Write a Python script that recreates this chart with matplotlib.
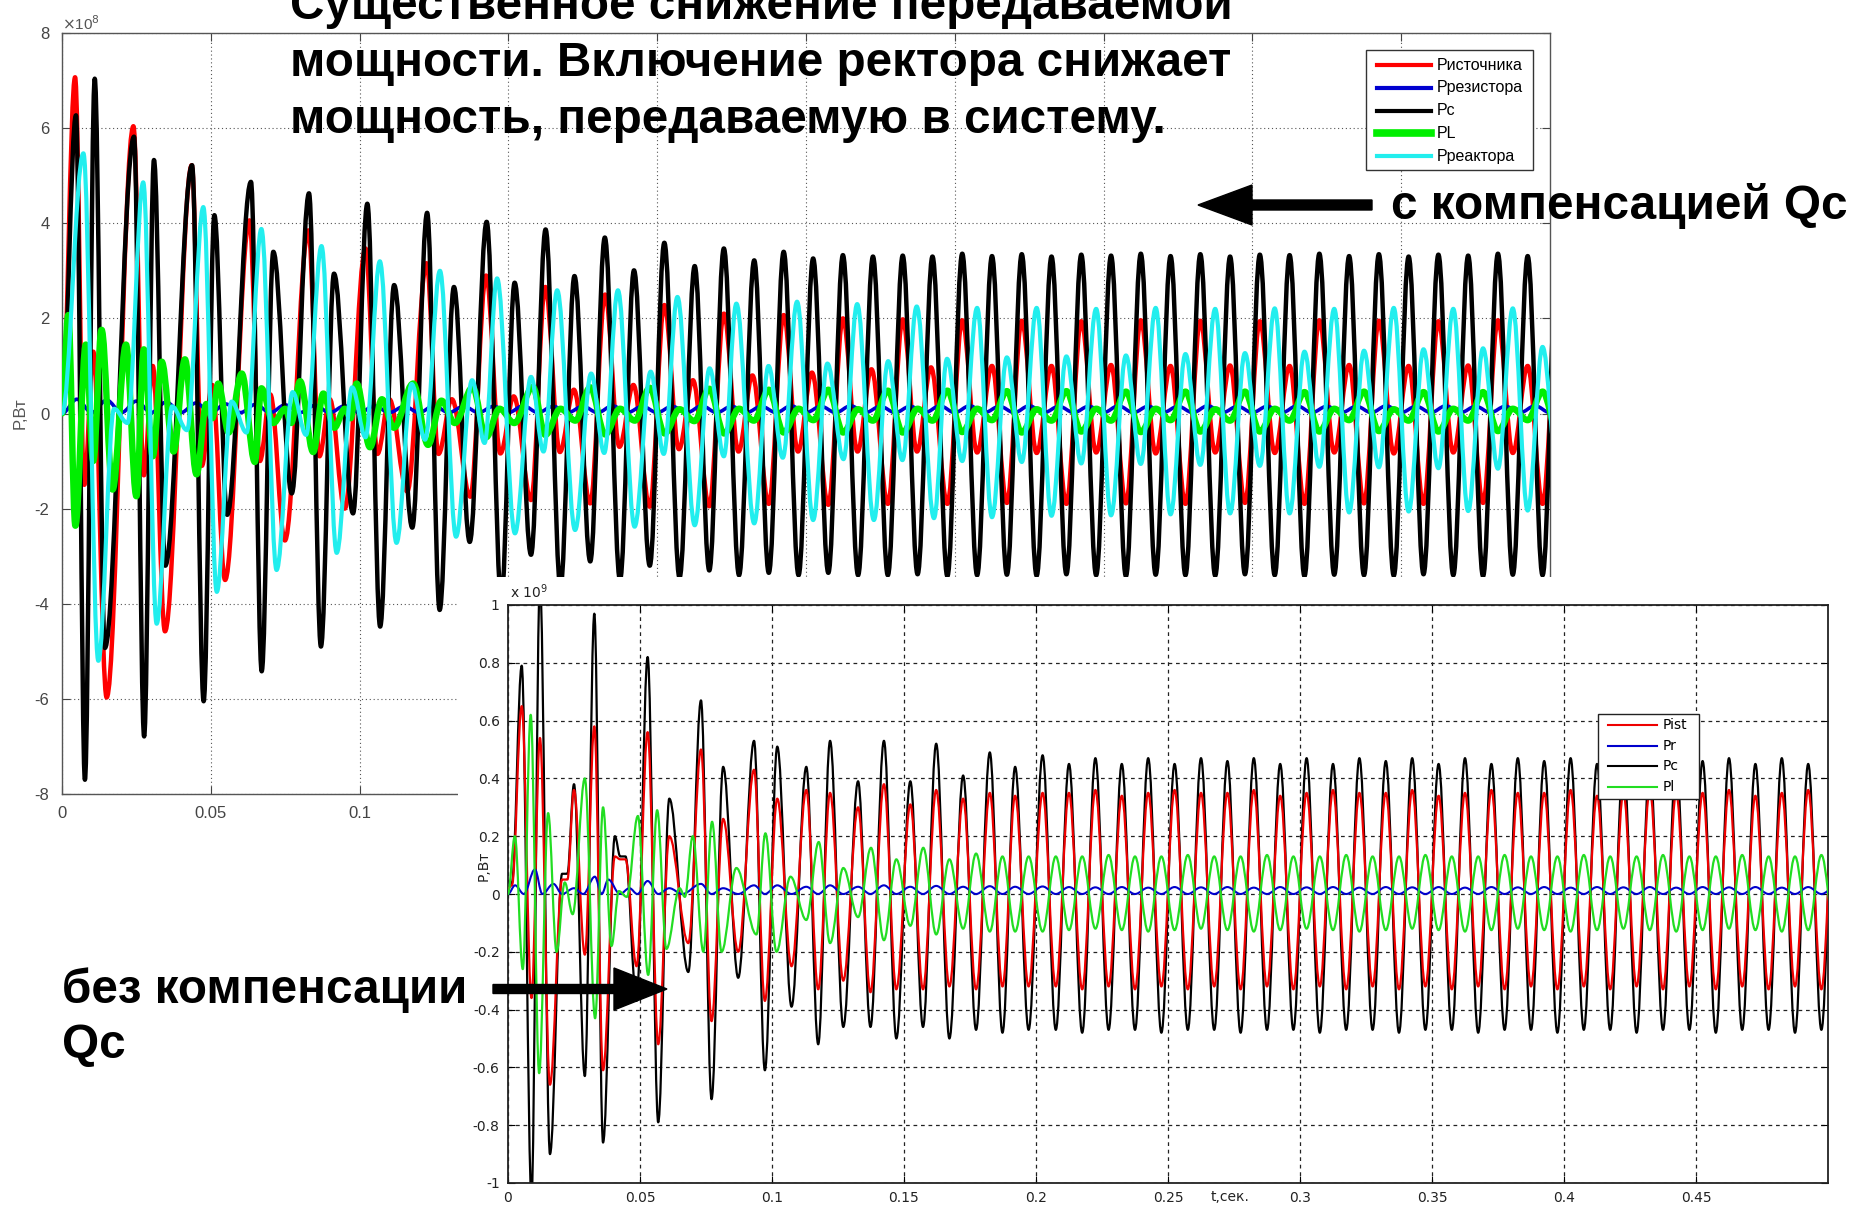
import numpy as np
import matplotlib
matplotlib.use("Agg")
import matplotlib.pyplot as plt
from matplotlib.path import Path
from matplotlib.patches import PathPatch, Rectangle, FancyArrow
from matplotlib.lines import Line2D
from matplotlib.transforms import IdentityTransform

# ---------------------------------------------------------------- data
# Upper chart (with compensation), values in 1e8 W, times of extrema in ms
top_pc_t = [0, 4.7, 7.7, 11.0, 14.4, 24.2, 27.6, 30.9, 34.7, 43.7, 47.6, 51.2, 55.5, 63.5, 67.1,
            71.0, 77.2, 83.0, 87.0, 91.4, 97.8, 102.6, 106.9, 111.6, 117.7, 122.7, 126.9, 131.7,
            137.0, 142.7, 147.6, 152.1, 157.6, 162.5, 167.5, 172.2, 177.5, 182.4, 187.5, 192.2,
            197.5, 202.4, 207.5, 212.6, 217.5, 222.4, 227.5, 232.6, 237.5, 242.5, 247.5, 252.4,
            257.5, 262.4, 267.5, 272.5]
top_pc_v = [0.0, 6.27, -7.70, 7.04, -4.93, 5.82, -6.79, 5.33, -3.20, 5.22, -6.05, 4.17, -2.13, 4.87,
            -5.42, 3.40, -1.68, 4.63, -4.90, 2.94, -2.10, 4.41, -4.48, 2.70, -2.40, 4.22, -4.13,
            2.66, -2.70, 4.03, -3.90, 2.75, -2.97, 3.87, -3.65, 2.89, -3.11, 3.70, -3.50, 3.01,
            -3.20, 3.59, -3.45, 3.10, -3.30, 3.47, -3.40, 3.22, -3.35, 3.40, -3.40, 3.26, -3.35,
            3.33, -3.40, 3.30]
top_pc_ss_start = 277.5
top_pc_ss = [-3.40, 3.32, -3.38, 3.30, -3.42, 3.36, -3.40, 3.31, -3.39, 3.35, -3.41, 3.30,
             -3.38, 3.34, -3.40, 3.32, -3.42, 3.36, -3.39, 3.31, -3.40, 3.35, -3.41, 3.30,
             -3.38, 3.34, -3.40, 3.33, -3.42, 3.36, -3.39, 3.31, -3.40, 3.35, -3.41, 3.30,
             -3.38, 3.34, -3.40, 3.32, -3.42, 3.36, -3.39, 3.31, -3.40, 3.35]

top_pist_t = [0, 4.4, 7.5, 10.5, 15.0, 24.0, 27.5, 30.5, 34.6, 43.6, 47.0, 50.5, 54.8, 63.0, 66.5,
              70.0, 74.9, 82.8, 86.5, 90.0, 95.0, 102.0, 106.0, 110.0, 116.0, 122.5, 126.5, 131.0,
              137.2, 142.5, 147.3, 151.8, 157.6, 162.4, 167.3, 172.0, 177.5, 182.5, 187.3, 192.0,
              197.5, 202.4, 207.3, 212.0, 217.5, 222.4, 227.3, 232.0, 237.5, 242.5, 247.3, 252.0,
              257.5, 262.4, 267.3, 272.0, 277.5, 282.5, 287.3, 292.0]
top_pist_v = [0.0, 7.07, -1.5, 1.3, -5.97, 6.04, -1.3, 1.0, -4.58, 5.22, -1.1, 0.6, -3.5, 4.06,
              -1.0, 0.4, -2.67, 3.85, -0.9, 0.3, -2.0, 3.47, -0.85, 0.3, -1.64, 3.16, -0.85, 0.3,
              -1.75, 2.90, -0.84, 0.36, -1.82, 2.66, -0.81, 0.50, -1.89, 2.50, -0.70, 0.60, -1.96,
              2.28, -0.75, 0.70, -1.95, 2.10, -0.80, 0.80, -1.90, 2.07, -0.80, 0.86, -1.92, 2.00,
              -0.80, 0.93, -1.90, 1.98, -0.80, 0.97]
top_pist_ss_start = 297.5
top_pist_ss = [-1.90, 1.96, -0.82, 1.00, -1.88, 1.95, -0.83, 1.00, -1.90, 1.94, -0.82, 1.02,
               -1.89, 1.96, -0.84, 1.00, -1.90, 1.95, -0.82, 1.01, -1.88, 1.94, -0.83, 1.00,
               -1.90, 1.96, -0.82, 1.02, -1.89, 1.95, -0.84, 1.00, -1.90, 1.94, -0.82, 1.01,
               -1.88, 1.96, -0.83, 1.00, -1.90, 1.95]

top_preact_t = [0, 7.2, 12.2, 17.5, 22.0, 27.3, 31.8, 37.0, 42.0, 47.5, 52.0, 57.0, 62.0, 67.0,
                72.1, 77.5, 82.0, 87.2, 92.3, 97.5, 102.0, 106.8, 112.4, 117.5, 122.0, 127.0,
                132.4, 137.8, 142.0, 146.2, 152.2, 157.6, 161.8, 166.4, 172.4, 177.8, 182.2,
                186.8, 192.4, 197.8, 202.2, 206.8, 212.6, 217.6, 222.4, 226.6, 232.6, 237.4,
                242.2, 247.0, 252.4, 257.2, 262.6, 267.2, 272.8, 277.6, 282.4, 287.2, 293.0, 297.4]
top_preact_v = [0.0, 5.47, -5.20, 0.10, -0.20, 4.86, -4.42, 0.15, -0.35, 4.34, -3.75, 0.25, -0.40,
                3.88, -3.29, 0.45, -0.45, 3.52, -2.93, 0.55, -0.50, 3.20, -2.72, 0.62, -0.55,
                3.00, -2.59, 0.70, -0.62, 2.84, -2.52, 0.77, -0.80, 2.59, -2.45, 0.84, -0.83,
                2.59, -2.38, 0.88, -0.85, 2.45, -2.35, 0.95, -0.90, 2.31, -2.31, 1.00, -0.93,
                2.35, -2.24, 1.05, -0.96, 2.30, -2.24, 1.10, -0.98, 2.25, -2.20, 1.15]
top_preact_ss_start = 302.5
top_preact_ss = [-1.00, 2.22, -2.18, 1.18, -1.02, 2.22, -2.15, 1.20, -1.05, 2.20, -2.14, 1.22,
                 -1.06, 2.22, -2.12, 1.25, -1.08, 2.20, -2.10, 1.27, -1.10, 2.21, -2.10, 1.30,
                 -1.12, 2.20, -2.08, 1.32, -1.13, 2.22, -2.06, 1.35, -1.15, 2.20, -2.05, 1.37,
                 -1.16, 2.21, -2.04, 1.40, -1.18]

top_pl_t = [0, 2.1, 4.5, 8.0, 10.5, 13.3, 17.0, 21.5, 25.0, 27.5, 30.5, 33.5, 37.5, 41.3, 45.2,
            48.5, 50.5, 52.5, 56.0, 60.4, 64.8, 67.0, 71.0, 75.0, 77.0, 80.0, 84.4, 87.8, 91.5,
            95.0, 97.0, 99.0, 103.5, 107.5, 111.5, 118.0, 123.0, 127.5, 132.0, 138.0, 142.5,
            147.0, 152.0, 158.2, 162.4]
top_pl_v = [0.0, 2.07, -2.36, 1.45, -1.00, 1.76, -1.60, 1.45, -1.74, 1.35, -0.90, 1.09, -0.80,
            1.14, -1.28, 0.20, -0.10, 0.63, -0.40, 0.84, -1.02, 0.53, -0.20, 0.10, -0.20, 0.68,
            -0.81, 0.42, -0.30, 0.10, -0.10, 0.63, -0.71, 0.30, -0.30, 0.63, -0.66, 0.27, -0.20,
            0.55, -0.50, 0.10, -0.20, 0.56, -0.45]
top_pl_ss_start = 167.5
top_pl_ss = [0.10, -0.15, 0.55, -0.44, 0.10, -0.15, 0.54, -0.42, 0.09, -0.16, 0.52, -0.42,
             0.10, -0.15, 0.50, -0.40, 0.10, -0.14, 0.50, -0.40, 0.09, -0.15, 0.48, -0.40,
             0.10, -0.15, 0.48, -0.39, 0.10, -0.14, 0.47, -0.40, 0.09, -0.15, 0.47, -0.38,
             0.10, -0.15, 0.46, -0.39, 0.10, -0.14, 0.46, -0.38, 0.09, -0.15, 0.46, -0.38,
             0.10, -0.15, 0.45, -0.38, 0.10, -0.14, 0.46, -0.37, 0.09, -0.15, 0.45, -0.38,
             0.10, -0.15, 0.45, -0.37, 0.10, -0.14, 0.46, -0.38]

top_pres_ss_start = 0.0
top_pres_ss = [0.00, 0.30, 0.02, 0.28, 0.02, 0.26, 0.02, 0.24, 0.02, 0.22, 0.02, 0.20, 0.02, 0.19,
               0.02, 0.18, 0.02, 0.17, 0.02, 0.16,
               0.02, 0.16, 0.02, 0.15, 0.02, 0.16, 0.02, 0.15, 0.02, 0.15, 0.02, 0.16, 0.02, 0.15,
               0.02, 0.15, 0.02, 0.16, 0.02, 0.15,
               0.02, 0.15, 0.02, 0.16, 0.02, 0.15, 0.02, 0.15, 0.02, 0.16, 0.02, 0.15, 0.02, 0.16,
               0.02, 0.15, 0.02, 0.15, 0.02, 0.16,
               0.02, 0.16, 0.02, 0.15, 0.02, 0.16, 0.02, 0.15, 0.02, 0.15, 0.02, 0.16, 0.02, 0.15,
               0.02, 0.15, 0.02, 0.16, 0.02, 0.15,
               0.02, 0.15, 0.02, 0.16, 0.02, 0.15, 0.02, 0.15, 0.02, 0.16, 0.02, 0.15, 0.02, 0.16,
               0.02, 0.15, 0.02, 0.15, 0.02, 0.16, 0.02]

# Lower chart (without compensation), values in 1e9 W
bot_t = [0, 1.5, 5.2, 8.9, 12.1, 15.9, 20.5, 22.5, 25.0, 29.1, 32.7, 36.0, 40.5, 42.5, 44.5,
         48.7, 52.9, 56.9, 61.1, 68.3, 73.1, 77.1, 81.5, 87.2, 93.2, 97.3, 102.0, 107.4, 113.0,
         117.5, 122.0, 127.0, 132.6, 137.3, 142.4, 147.1, 152.4, 157.2, 162.2, 167.2, 172.4,
         177.3, 182.5, 187.3, 192.1, 197.2, 202.5]
bot_pc_v = [0.02, 0.04, 0.79, -1.05, 1.08, -0.90, 0.07, 0.07, 0.38, -0.63, 0.97, -0.86, 0.20,
            0.13, 0.13, -0.37, 0.82, -0.79, 0.33, -0.27, 0.67, -0.71, 0.44, -0.29, 0.53, -0.61,
            0.51, -0.39, 0.44, -0.52, 0.53, -0.46, 0.39, -0.46, 0.53, -0.50, 0.39, -0.46, 0.52,
            -0.50, 0.41, -0.47, 0.49, -0.48, 0.44, -0.47, 0.48]
bot_pist_v = [0.02, 0.03, 0.65, -0.36, 0.54, -0.66, 0.05, 0.05, 0.36, -0.21, 0.58, -0.61, 0.13,
              0.12, 0.12, -0.25, 0.56, -0.52, 0.20, -0.17, 0.50, -0.44, 0.26, -0.20, 0.43, -0.37,
              0.33, -0.25, 0.36, -0.33, 0.35, -0.30, 0.30, -0.34, 0.38, -0.33, 0.31, -0.33, 0.36,
              -0.32, 0.33, -0.33, 0.35, -0.32, 0.34, -0.32, 0.35]
bot_ss_start = 207.5
bot_pc_ss = [-0.47, 0.45, -0.48, 0.47, -0.47, 0.45, -0.47, 0.47, -0.48, 0.45, -0.47, 0.47,
             -0.47, 0.46, -0.48, 0.47, -0.47, 0.45, -0.47, 0.47, -0.48, 0.45, -0.47, 0.47,
             -0.47, 0.46, -0.48, 0.47, -0.47, 0.45, -0.47, 0.47, -0.48, 0.45, -0.47, 0.47,
             -0.47, 0.46, -0.48, 0.47, -0.47, 0.45, -0.47, 0.47, -0.48, 0.45, -0.47, 0.47,
             -0.47, 0.46, -0.48, 0.47, -0.47, 0.45, -0.47, 0.47, -0.48, 0.45, -0.47, 0.47]
bot_pist_ss = [-0.32, 0.35, -0.33, 0.36, -0.32, 0.34, -0.33, 0.35, -0.32, 0.36, -0.33, 0.35,
               -0.32, 0.35, -0.33, 0.36, -0.32, 0.34, -0.33, 0.35, -0.32, 0.36, -0.33, 0.35,
               -0.32, 0.35, -0.33, 0.36, -0.32, 0.34, -0.33, 0.35, -0.32, 0.36, -0.33, 0.35,
               -0.32, 0.35, -0.33, 0.36, -0.32, 0.34, -0.33, 0.35, -0.32, 0.36, -0.33, 0.35,
               -0.32, 0.35, -0.33, 0.36, -0.32, 0.34, -0.33, 0.35, -0.32, 0.36, -0.33, 0.35]

bot_pl_t = [0, 2.6, 5.6, 8.6, 11.8, 15.2, 18.4, 21.5, 24.5, 29.1, 33.0, 36.0, 39.2, 42.0, 45.0,
            49.2, 53.1, 56.5, 60.0, 65.0, 67.0, 70.0, 74.0, 77.3, 80.9, 86.5, 94.1, 97.5, 101.7,
            107.0, 113.0, 117.7, 122.0, 127.0, 132.6, 137.5, 142.4, 147.1, 152.4, 157.3, 162.2,
            167.2, 172.4, 177.3, 182.5, 187.3, 192.1, 197.2, 202.5]
bot_pl_v = [0.0, 0.20, -0.26, 0.62, -0.62, 0.28, -0.20, 0.04, -0.07, 0.40, -0.43, 0.30, -0.18,
            0.01, -0.01, 0.27, -0.28, 0.29, -0.19, 0.02, -0.01, 0.20, -0.20, 0.25, -0.20, 0.09,
            -0.14, 0.21, -0.20, 0.06, -0.09, 0.18, -0.17, 0.09, -0.08, 0.16, -0.16, 0.12, -0.11,
            0.16, -0.14, 0.12, -0.12, 0.14, -0.13, 0.13, -0.13, 0.13, -0.13]
bot_pl_ss = [0.13, -0.125, 0.13, -0.12, 0.135, -0.125, 0.13, -0.13, 0.13, -0.125, 0.135, -0.12,
             0.13, -0.125, 0.13, -0.13, 0.135, -0.125, 0.13, -0.12, 0.13, -0.125, 0.135, -0.13,
             0.13, -0.125, 0.13, -0.12, 0.135, -0.125, 0.13, -0.13, 0.13, -0.125, 0.135, -0.12,
             0.13, -0.125, 0.13, -0.13, 0.135, -0.125, 0.13, -0.12, 0.13, -0.125, 0.135, -0.13,
             0.13, -0.125, 0.13, -0.12, 0.135, -0.125, 0.13, -0.13, 0.13, -0.125, 0.135, -0.12]

bot_pr_t = [0, 2.7, 6.0, 10.2, 13.0, 17.2, 20.5, 25.0, 28.5, 32.9, 35.5, 38.0, 42.4, 46.0, 49.0,
            52.9, 56.9, 61.1, 66.0, 73.1, 77.1, 81.5, 87.2, 93.2, 97.3, 102.0, 107.4, 113.0,
            117.5, 122.0, 127.0, 132.6, 137.3, 142.4, 147.1, 152.4, 157.2, 162.2, 167.2, 172.4,
            177.3, 182.5, 187.3, 192.1, 197.2, 202.5]
bot_pr_v = [0.0, 0.03, 0.0, 0.085, 0.0, 0.035, 0.0, 0.02, 0.0, 0.06, 0.0, 0.05, 0.0, 0.02, 0.0,
            0.045, 0.0, 0.02, 0.0, 0.035, 0.0, 0.02, 0.0, 0.03, 0.0, 0.03, 0.0, 0.025, 0.0, 0.03,
            0.0, 0.025, 0.0, 0.03, 0.0, 0.025, 0.0, 0.028, 0.0, 0.025, 0.0, 0.027, 0.0, 0.025,
            0.0, 0.026]
bot_pr_ss = [0.0, 0.024, 0.0, 0.023, 0.0, 0.024, 0.0, 0.022, 0.0, 0.024, 0.0, 0.023,
             0.0, 0.024, 0.0, 0.022, 0.0, 0.024, 0.0, 0.023, 0.0, 0.024, 0.0, 0.022,
             0.0, 0.024, 0.0, 0.023, 0.0, 0.024, 0.0, 0.022, 0.0, 0.024, 0.0, 0.023,
             0.0, 0.024, 0.0, 0.022, 0.0, 0.024, 0.0, 0.023, 0.0, 0.024, 0.0, 0.022,
             0.0, 0.024, 0.0, 0.023, 0.0, 0.024, 0.0, 0.022, 0.0, 0.024, 0.0, 0.023]

SS_STEP_MS = 5.0

top_yticks = [-8, -6, -4, -2, 0, 2, 4, 6, 8]
top_ytick_labels = ["-8", "-6", "-4", "-2", "0", "2", "4", "6", "8"]
bot_yticks = [-1, -0.8, -0.6, -0.4, -0.2, 0, 0.2, 0.4, 0.6, 0.8, 1]
bot_ytick_labels = ["-1", "-0.8", "-0.6", "-0.4", "-0.2", "0", "0.2", "0.4", "0.6", "0.8", "1"]
xticks = [0, 0.05, 0.1, 0.15, 0.2, 0.25, 0.3, 0.35, 0.4, 0.45]
xtick_labels = ["0", "0.05", "0.1", "0.15", "0.2", "0.25", "0.3", "0.35", "0.4", "0.45"]

top_labels = ["Ристочника", "Pрезистора", "Pc", "PL", "Pреактора"]
bot_labels = ["Pist", "Pr", "Pc", "Pl"]

title_lines = ["Существенное снижение передаваемой",
               "мощности. Включение ректора снижает",
               "мощность, передаваемую в систему."]
txt_with = "с компенсацией Qc"
txt_without = ["без компенсации", "Qc"]

# ---------------------------------------------------------------- helpers
W, H = 1856, 1205
fig = plt.figure(figsize=(W / 100, H / 100), dpi=100)
fig.patch.set_facecolor("white")


def fx(x):
    return x / W


def fy(y):
    return 1 - y / H


def series(t_tr, v_tr, ss_start=None, ss=None):
    t = list(t_tr)
    v = list(v_tr)
    if ss is not None:
        t += list(ss_start + SS_STEP_MS * np.arange(len(ss)))
        v += list(ss)
    return np.asarray(t, float) / 1000.0, np.asarray(v, float)


def draw_smooth(ax, t, v, color, lw, z, k=0.36):
    verts = [(t[0], v[0])]
    codes = [Path.MOVETO]
    for i in range(len(t) - 1):
        d = t[i + 1] - t[i]
        verts += [(t[i] + k * d, v[i]), (t[i + 1] - k * d, v[i + 1]), (t[i + 1], v[i + 1])]
        codes += [Path.CURVE4] * 3
    p = PathPatch(Path(verts, codes), fill=False, edgecolor=color, lw=lw, zorder=z,
                  joinstyle="round", capstyle="round")
    ax.add_patch(p)


RED = "#ff0000"
BLUE = "#0000d0"
BLACK = "#000000"
GREEN = "#00ee00"
CYAN = "#22eeee"

# ---------------------------------------------------------------- upper chart
ax1 = fig.add_axes([fx(62), fy(794), (1550 - 62) / W, (794 - 33) / H])
ax1.set_xlim(0, 0.5)
ax1.set_ylim(-8, 8)
ax1.set_axisbelow(True)
ax1.grid(True, linestyle=(0, (1, 2.5)), color="#555555", lw=0.8)
ax1.set_xticks(xticks)
ax1.set_xticklabels(xtick_labels)
ax1.set_yticks(top_yticks)
ax1.set_yticklabels(top_ytick_labels)
ax1.tick_params(direction="in", length=6, width=0.8, color="#444444", top=True, right=True,
                labelsize=12, labelcolor="#444444", pad=9)
for lab in ax1.get_xticklabels() + ax1.get_yticklabels():
    lab.set_family("Liberation Sans")
for s in ax1.spines.values():
    s.set_color("#555555")
    s.set_linewidth(1.0)

t, v = series(top_pist_t, top_pist_v, top_pist_ss_start, top_pist_ss)
draw_smooth(ax1, t, v, RED, 3.2, 2)
t, v = series([], [], top_pres_ss_start, top_pres_ss)
draw_smooth(ax1, t, v, BLUE, 2.6, 3)
t, v = series(top_pc_t, top_pc_v, top_pc_ss_start, top_pc_ss)
draw_smooth(ax1, t, v, BLACK, 3.2, 4)
t, v = series(top_pl_t, top_pl_v, top_pl_ss_start, top_pl_ss)
draw_smooth(ax1, t, v, GREEN, 4.6, 5)
t, v = series(top_preact_t, top_preact_v, top_preact_ss_start, top_preact_ss)
draw_smooth(ax1, t, v, CYAN, 3.0, 6)

fig.text(fx(20), fy(413), "P,Вт", rotation=90, ha="center", va="center", fontsize=12,
         color="#555555", family="Liberation Sans")
fig.text(fx(62), fy(30), r"$\times$10$^{8}$", ha="left", va="baseline", fontsize=11,
         color="#555555", family="Liberation Sans")

# upper legend (drawn in figure pixels)
fig.patches.append(Rectangle((fx(1366), fy(170)), (1533 - 1366) / W, (170 - 50) / H,
                             transform=fig.transFigure, facecolor="white", edgecolor="#333333",
                             lw=1.0, zorder=8))
leg_cols = [RED, BLUE, BLACK, GREEN, CYAN]
leg_lw = [3.0, 3.0, 3.0, 5.5, 3.0]
for i, (lab, c, lw) in enumerate(zip(top_labels, leg_cols, leg_lw)):
    yy = 65 + i * 22.8
    fig.lines.append(Line2D([fx(1377), fx(1431)], [fy(yy), fy(yy)], color=c, lw=lw,
                           transform=fig.transFigure, zorder=9))
    fig.text(fx(1437), fy(yy), lab, ha="left", va="center", fontsize=11.5,
             family="Liberation Sans", zorder=9)

# ---------------------------------------------------------------- cover (inset background)
cover = fig.add_axes([fx(458), 0, (W - 458) / W, (H - 577) / H])
cover.set_facecolor("white")
cover.set_xticks([])
cover.set_yticks([])
for s in cover.spines.values():
    s.set_visible(False)
cover.set_zorder(1)

# ---------------------------------------------------------------- lower chart
ax2 = fig.add_axes([fx(508), fy(1183), (1828 - 508) / W, (1183 - 605) / H])
ax2.set_zorder(2)
ax2.set_xlim(0, 0.5)
ax2.set_ylim(-1, 1)
ax2.set_axisbelow(True)
ax2.grid(True, linestyle=(0, (3, 3)), color="#222222", lw=0.9)
ax2.set_xticks(xticks)
ax2.set_xticklabels(xtick_labels)
ax2.set_yticks(bot_yticks)
ax2.set_yticklabels(bot_ytick_labels)
ax2.tick_params(direction="in", length=5, width=0.8, top=True, right=True, labelsize=10,
                labelcolor="#222222", pad=6)
for s in ax2.spines.values():
    s.set_color("#222222")
    s.set_linewidth(1.3)

t, v = series(bot_t, bot_pc_v, bot_ss_start, bot_pc_ss)
draw_smooth(ax2, t, v, BLACK, 1.6, 2)
t, v = series(bot_t, bot_pist_v, bot_ss_start, bot_pist_ss)
draw_smooth(ax2, t, v, "#ee0000", 1.6, 3)
t, v = series(bot_pr_t, bot_pr_v, bot_ss_start, bot_pr_ss)
draw_smooth(ax2, t, v, "#0000cc", 1.5, 4)
t, v = series(bot_pl_t, bot_pl_v, bot_ss_start, bot_pl_ss)
draw_smooth(ax2, t, v, "#22dd22", 1.6, 5)

fig.text(fx(484), fy(866), "P,Вт", rotation=90, ha="center", va="center", fontsize=10,
         color="#222222", zorder=10)
fig.text(fx(510), fy(598), r"x 10$^{9}$", ha="left", va="baseline", fontsize=10,
         color="#222222", zorder=10)
fig.text(fx(1230), fy(1197), "t,сек.", ha="center", va="center", fontsize=10,
         color="#222222", zorder=10)

fig.patches.append(Rectangle((fx(1598), fy(799)), (1699 - 1598) / W, (799 - 714) / H,
                             transform=fig.transFigure, facecolor="white", edgecolor="#222222",
                             lw=1.0, zorder=12))
for i, (lab, c) in enumerate(zip(bot_labels, ["#ee0000", "#0000cc", "#000000", "#22dd22"])):
    yy = 725 + i * 20.6
    fig.lines.append(Line2D([fx(1608), fx(1657)], [fy(yy), fy(yy)], color=c, lw=1.5,
                           transform=fig.transFigure, zorder=13))
    fig.text(fx(1663), fy(yy), lab, ha="left", va="center", fontsize=10, zorder=13)

# ---------------------------------------------------------------- annotations
renderer = fig.canvas.get_renderer()


def fit(txt, target_w):
    for _ in range(4):
        w = txt.get_window_extent(renderer).width
        txt.set_fontsize(txt.get_fontsize() * target_w / w)
    return txt.get_fontsize()


BOLD = dict(family="Liberation Sans", weight="bold", color="black", zorder=20,
            ha="left", va="baseline")
l2 = fig.text(fx(290), fy(76), title_lines[1], fontsize=30, **BOLD)
fs_title = fit(l2, 941)
fig.text(fx(290), fy(19), title_lines[0], fontsize=fs_title, **BOLD)
fig.text(fx(290), fy(133), title_lines[2], fontsize=fs_title, **BOLD)

tw = fig.text(fx(1391), fy(219), txt_with, fontsize=30, **BOLD)
fit(tw, 456)

tb = fig.text(fx(62), fy(1003), txt_without[0], fontsize=30, **BOLD)
fs_b = fit(tb, 405)
fig.text(fx(62), fy(1058), txt_without[1], fontsize=fs_b, **BOLD)

# arrows (display pixel coordinates, origin bottom-left)
fig.patches.append(FancyArrow(1372, H - 205, -(1372 - 1198), 0, width=10, head_width=40,
                              head_length=54, length_includes_head=True, color="black",
                              transform=IdentityTransform(), zorder=20))
fig.patches.append(FancyArrow(493, H - 989, 667 - 493, 0, width=9, head_width=42,
                              head_length=53, length_includes_head=True, color="black",
                              transform=IdentityTransform(), zorder=20))

fig.savefig("out.png", dpi=100, facecolor="white")
